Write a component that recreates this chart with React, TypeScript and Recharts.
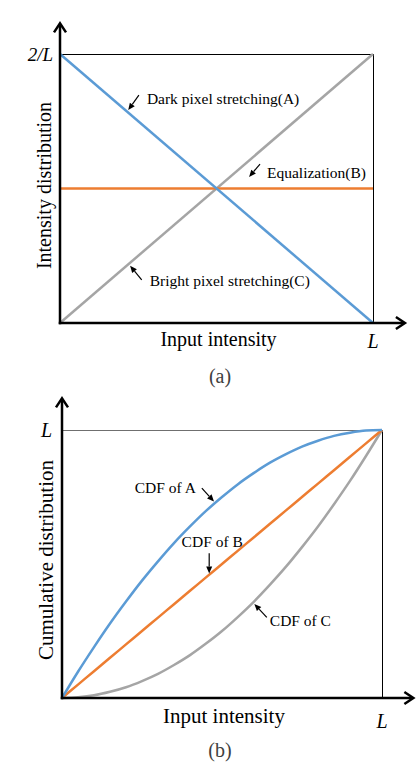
import React from 'react';
import { LineChart, Line, XAxis, YAxis, ReferenceLine } from 'recharts';

const SERIF = '"Liberation Serif", "Times New Roman", serif';
const BLUE = '#5B9BD5';
const ORANGE = '#ED7D31';
const GRAY = '#A5A5A5';

// (a) intensity distributions: x in units of L, y in units of 1/L
const pdfX = [0, 1];
const darkA = [2, 0];
const equalB = [1, 1];
const brightC = [0, 2];

// (b) cumulative distributions: both axes in units of L
const cdfX = [0, 0.05, 0.1, 0.15, 0.2, 0.25, 0.3, 0.35, 0.4, 0.45, 0.5, 0.55, 0.6, 0.65, 0.7, 0.75, 0.8, 0.85, 0.9, 0.95, 1];
const cdfA = [0, 0.098, 0.19, 0.278, 0.36, 0.438, 0.51, 0.578, 0.64, 0.698, 0.75, 0.798, 0.84, 0.878, 0.91, 0.938, 0.96, 0.978, 0.99, 0.998, 1];
const cdfB = [0, 0.05, 0.1, 0.15, 0.2, 0.25, 0.3, 0.35, 0.4, 0.45, 0.5, 0.55, 0.6, 0.65, 0.7, 0.75, 0.8, 0.85, 0.9, 0.95, 1];
const cdfC = [0, 0.003, 0.01, 0.023, 0.04, 0.063, 0.09, 0.123, 0.16, 0.203, 0.25, 0.303, 0.36, 0.423, 0.49, 0.563, 0.64, 0.723, 0.81, 0.903, 1];

const pdfData = pdfX.map((x, i) => ({ x, a: darkA[i], b: equalB[i], c: brightC[i] }));
const cdfData = cdfX.map((x, i) => ({ x, a: cdfA[i], b: cdfB[i], c: cdfC[i] }));

type Note = { text: string; from: [number, number]; to: [number, number]; dx: number; dy: number; anchor: 'start' | 'middle' | 'end' };

// annotation arrows, in data units (tail -> tip); text offset from tail in px
const pdfNotes: Note[] = [
  { text: 'Dark pixel stretching(A)', from: [0.252, 1.694], to: [0.218, 1.583], dx: 8, dy: 9, anchor: 'start' },
  { text: 'Equalization(B)', from: [0.639, 1.182], to: [0.604, 1.086], dx: 7, dy: 14, anchor: 'start' },
  { text: 'Bright pixel stretching(C)', from: [0.261, 0.32], to: [0.224, 0.426], dx: 8, dy: 6, anchor: 'start' },
];
const cdfNotes: Note[] = [
  { text: 'CDF of A', from: [0.437, 0.783], to: [0.475, 0.733], dx: -6, dy: 5, anchor: 'end' },
  { text: 'CDF of B', from: [0.46, 0.54], to: [0.46, 0.465], dx: 3, dy: -6, anchor: 'middle' },
  { text: 'CDF of C', from: [0.64, 0.301], to: [0.601, 0.351], dx: 3, dy: 9, anchor: 'start' },
];

const axisArrow = (p: any) => {
  const { x1, y1, x2, y2 } = p;
  const ang = Math.atan2(y2 - y1, x2 - x1);
  const c = Math.cos(ang), s = Math.sin(ang);
  const bx = x2 - 9 * c, by = y2 - 9 * s;
  const nx = -s * 6, ny = c * 6;
  return (
    <g>
      <line x1={x1 - 1.25 * c} y1={y1 - 1.25 * s} x2={x2 - 1.5 * c} y2={y2 - 1.5 * s} stroke="#000" strokeWidth={2.5} />
      <polyline points={`${bx + nx},${by + ny} ${x2},${y2} ${bx - nx},${by - ny}`} fill="none" stroke="#000" strokeWidth={2.5} />
    </g>
  );
};

const frameLine = (color: string) => (p: any) => (
  <line x1={p.x1} y1={p.y1} x2={p.x2} y2={p.y2} stroke={color} strokeWidth={1} shapeRendering="crispEdges" />
);

const noteShape = (n: Note, size: number) => (p: any) => {
  const { x1, y1, x2, y2 } = p;
  const ang = Math.atan2(y2 - y1, x2 - x1);
  const c = Math.cos(ang), s = Math.sin(ang);
  const bx = x2 - 7 * c, by = y2 - 7 * s;
  const nx = -s * 3, ny = c * 3;
  return (
    <g>
      <line x1={x1} y1={y1} x2={bx} y2={by} stroke="#000" strokeWidth={1.2} />
      <polygon points={`${bx + nx},${by + ny} ${x2},${y2} ${bx - nx},${by - ny}`} fill="#000" />
      <text x={x1 + n.dx} y={y1 + n.dy} textAnchor={n.anchor} fontSize={size} fontFamily={SERIF} fill="#000">
        {n.text}
      </text>
    </g>
  );
};

const yTitle = (text: string, size: number, shift: number) => (p: any) => {
  const vb = p.viewBox;
  const bx = vb.x + vb.width - 9;
  const cy = vb.y + vb.height / 2 + shift;
  return (
    <text x={bx} y={cy} transform={`rotate(-90 ${bx} ${cy})`} textAnchor="middle" fontSize={size} fontFamily={SERIF} fill="#000">
      {text}
    </text>
  );
};

const xTitle = (text: string, size: number, dy: number) => (p: any) => {
  const vb = p.viewBox;
  return (
    <text x={vb.x + vb.width / 2 + 2} y={vb.y + dy} textAnchor="middle" fontSize={size} fontFamily={SERIF} fill="#000">
      {text}
    </text>
  );
};

const FracTick = (p: any) => {
  const { x, y } = p;
  const cx = x + 14;
  return (
    <g fontFamily={SERIF} fill="#000">
      <text x={cx} y={y - 1} textAnchor="middle" fontSize={14}>1</text>
      <line x1={cx - 4.5} x2={cx + 4.5} y1={y + 3} y2={y + 3} stroke="#000" strokeWidth={1} />
      <text x={cx} y={y + 15} textAnchor="middle" fontSize={13} fontStyle="italic">L</text>
    </g>
  );
};

const italicTick = (size: number) => ({ fill: '#000', fontSize: size, fontStyle: 'italic', fontFamily: SERIF });

const captionStyle: React.CSSProperties = {
  position: 'absolute', left: 0, width: 440, textAlign: 'center',
  fontFamily: SERIF, fontSize: 20, lineHeight: '20px', color: '#404040',
};

export default function App() {
  return (
    <div style={{ position: 'absolute', left: 0, top: 0, width: 420, height: 769, background: '#fff' }}>
      <div style={{ position: 'absolute', left: 0, top: 0 }}>
        <LineChart width={420} height={390} data={pdfData} margin={{ top: 54, right: 7, bottom: 27, left: 8 }}>
          <XAxis type="number" dataKey="x" domain={[0, 1]} ticks={[1]} interval={0} tickFormatter={() => 'L'}
            axisLine={false} tickLine={false} tickSize={0} tickMargin={11} height={40} tick={italicTick(20)}
            label={xTitle('Input intensity', 20, 23)} />
          <YAxis type="number" domain={[0, 2]} ticks={[2]} interval={0} tickFormatter={() => '2/L'}
            axisLine={false} tickLine={false} tickSize={0} tickMargin={7} width={52} tick={italicTick(19)}
            label={yTitle('Intensity distribution', 20, -3)} />
          <YAxis yAxisId="r" orientation="right" type="number" domain={[0, 2]} ticks={[1]} interval={0}
            axisLine={false} tickLine={false} tickSize={0} tickMargin={0} width={40} tick={FracTick} />
          <ReferenceLine y={2} shape={frameLine('#000')} />
          <ReferenceLine x={1} shape={frameLine('#000')} />
          <Line type="linear" dataKey="c" stroke={GRAY} strokeWidth={2.5} dot={false} isAnimationActive={false} />
          <Line type="linear" dataKey="b" stroke={ORANGE} strokeWidth={2.5} dot={false} isAnimationActive={false} />
          <Line type="linear" dataKey="a" stroke={BLUE} strokeWidth={2.5} dot={false} isAnimationActive={false} />
          <ReferenceLine segment={[{ x: 0, y: 0 }, { x: 1.102, y: 0 }]} ifOverflow="visible" shape={axisArrow} />
          <ReferenceLine segment={[{ x: 0, y: 0 }, { x: 0, y: 2.228 }]} ifOverflow="visible" shape={axisArrow} />
          {pdfNotes.map((n) => (
            <ReferenceLine key={n.text} segment={[{ x: n.from[0], y: n.from[1] }, { x: n.to[0], y: n.to[1] }]}
              ifOverflow="visible" shape={noteShape(n, 15.5)} />
          ))}
        </LineChart>
      </div>
      <div style={{ ...captionStyle, top: 366 }}>(a)</div>

      <div style={{ position: 'absolute', left: 0, top: 390 }}>
        <LineChart width={420} height={379} data={cdfData} margin={{ top: 40, right: 38, bottom: 31, left: 12 }}>
          <XAxis type="number" dataKey="x" domain={[0, 1]} ticks={[1]} interval={0} tickFormatter={() => 'L'}
            axisLine={false} tickLine={false} tickSize={0} tickMargin={16} height={40} tick={italicTick(20)}
            label={xTitle('Input intensity', 21, 25)} />
          <YAxis type="number" domain={[0, 1]} ticks={[1]} interval={0} tickFormatter={() => 'L'}
            axisLine={false} tickLine={false} tickSize={0} tickMargin={10} width={50} tick={italicTick(20)}
            label={yTitle('Cumulative distribution', 21, -4)} />
          <ReferenceLine y={1} shape={frameLine('#6F6F6F')} />
          <ReferenceLine x={1} shape={frameLine('#000')} />
          <Line type="monotone" dataKey="c" stroke={GRAY} strokeWidth={2.5} dot={false} isAnimationActive={false} />
          <Line type="monotone" dataKey="b" stroke={ORANGE} strokeWidth={2.5} dot={false} isAnimationActive={false} />
          <Line type="monotone" dataKey="a" stroke={BLUE} strokeWidth={2.5} dot={false} isAnimationActive={false} />
          <ReferenceLine segment={[{ x: 0, y: 0 }, { x: 1.098, y: 0 }]} ifOverflow="visible" shape={axisArrow} />
          <ReferenceLine segment={[{ x: 0, y: 0 }, { x: 0, y: 1.118 }]} ifOverflow="visible" shape={axisArrow} />
          {cdfNotes.map((n) => (
            <ReferenceLine key={n.text} segment={[{ x: n.from[0], y: n.from[1] }, { x: n.to[0], y: n.to[1] }]}
              ifOverflow="visible" shape={noteShape(n, 15.5)} />
          ))}
        </LineChart>
      </div>
      <div style={{ ...captionStyle, top: 740 }}>(b)</div>
    </div>
  );
}
